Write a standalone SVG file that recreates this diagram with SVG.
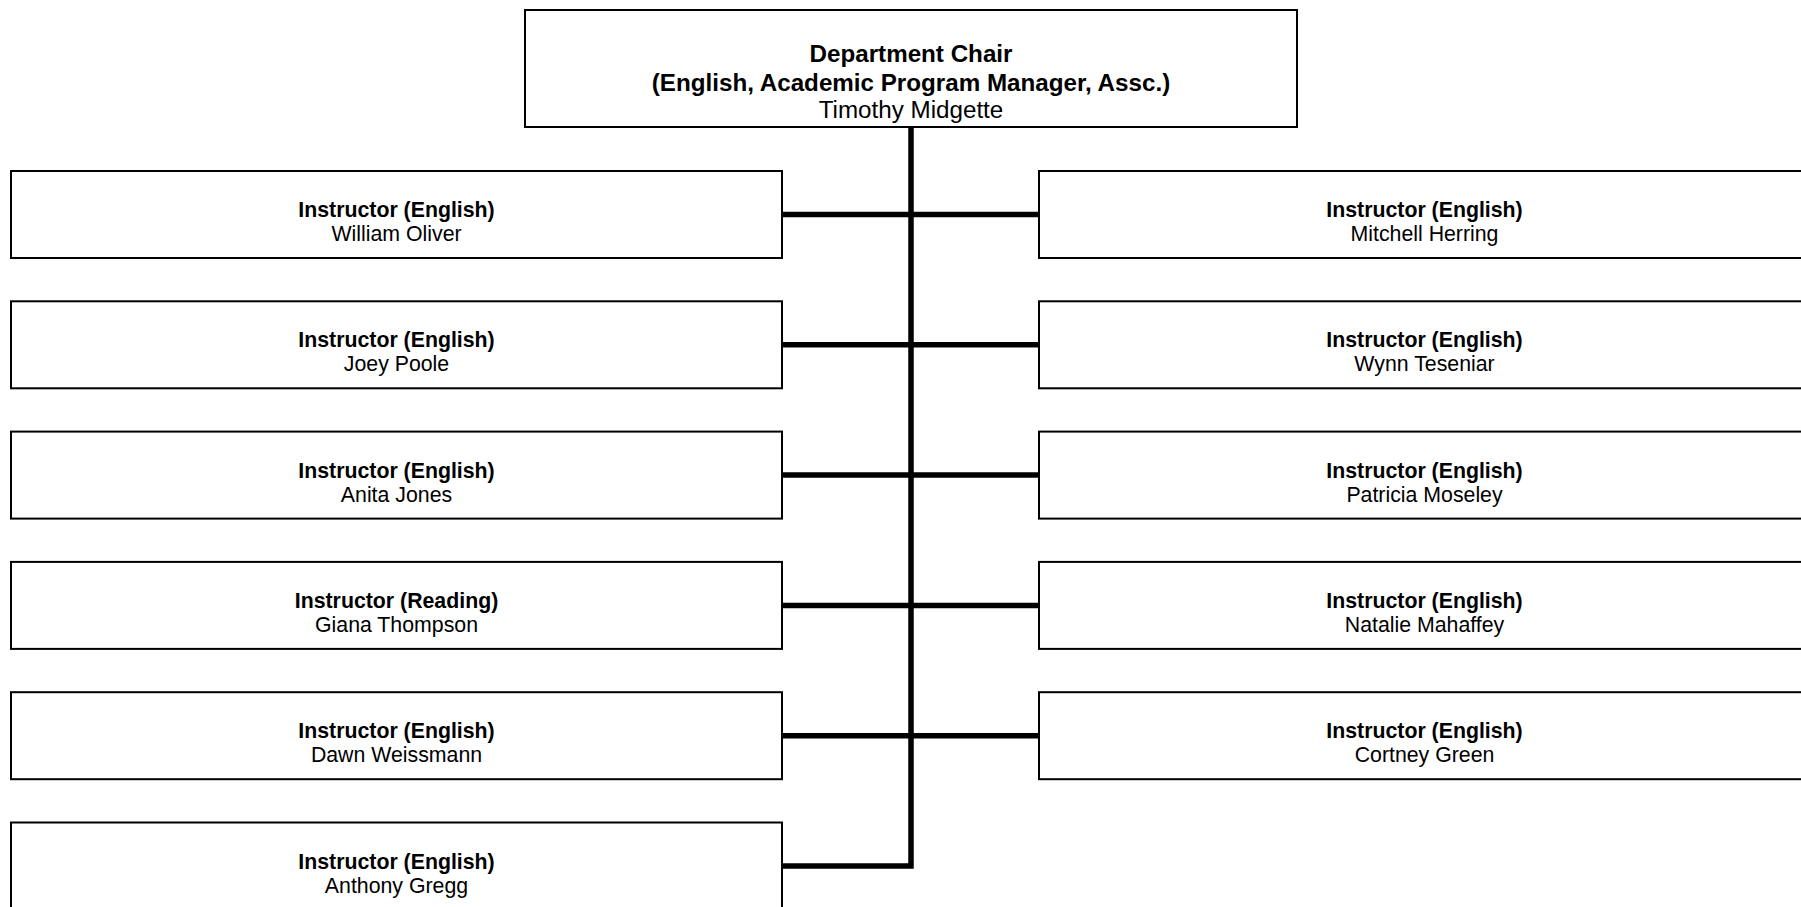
<svg xmlns="http://www.w3.org/2000/svg" width="1801" height="907" viewBox="0 0 1801 907">
<style>
.box{fill:#fff;stroke:#000;stroke-width:2}
.t{font-family:"Liberation Sans",Arial,sans-serif;font-size:21.3px;fill:#000;text-anchor:middle}
.h{font-size:24.2px}
.b{font-weight:bold}
.c{stroke:#000;stroke-width:5.5;fill:none}
</style>
<rect width="1801" height="907" fill="#fff"/>
<g id="connectors">
<path class="c" d="M911 127 V866 H782"/>
<path class="c" d="M782 214.5 H1039 M782 344.8 H1039 M782 475.1 H1039 M782 605.4 H1039 M782 735.7 H1039"/>
</g>
<g id="chair">
<rect class="box" x="525" y="10" width="772" height="117"/>
<text class="t h b" x="911" y="61.5">Department Chair</text>
<text class="t h b" x="911" y="91">(English, Academic Program Manager, Assc.)</text>
<text class="t h" x="911" y="118">Timothy Midgette</text>
</g>
<g id="l1"><rect class="box" x="11" y="171" width="771" height="87"/><text class="t b" x="396.5" y="217">Instructor (English)</text><text class="t" x="396.5" y="241">William Oliver</text></g>
<g id="l2"><rect class="box" x="11" y="301.3" width="771" height="87"/><text class="t b" x="396.5" y="347.3">Instructor (English)</text><text class="t" x="396.5" y="371.3">Joey Poole</text></g>
<g id="l3"><rect class="box" x="11" y="431.6" width="771" height="87"/><text class="t b" x="396.5" y="477.6">Instructor (English)</text><text class="t" x="396.5" y="501.6">Anita Jones</text></g>
<g id="l4"><rect class="box" x="11" y="561.9" width="771" height="87"/><text class="t b" x="396.5" y="607.9">Instructor (Reading)</text><text class="t" x="396.5" y="631.9">Giana Thompson</text></g>
<g id="l5"><rect class="box" x="11" y="692.2" width="771" height="87"/><text class="t b" x="396.5" y="738.2">Instructor (English)</text><text class="t" x="396.5" y="762.2">Dawn Weissmann</text></g>
<g id="l6"><rect class="box" x="11" y="822.5" width="771" height="87"/><text class="t b" x="396.5" y="868.5">Instructor (English)</text><text class="t" x="396.5" y="892.5">Anthony Gregg</text></g>
<g id="r1"><rect class="box" x="1039" y="171" width="771" height="87"/><text class="t b" x="1424.5" y="217">Instructor (English)</text><text class="t" x="1424.5" y="241">Mitchell Herring</text></g>
<g id="r2"><rect class="box" x="1039" y="301.3" width="771" height="87"/><text class="t b" x="1424.5" y="347.3">Instructor (English)</text><text class="t" x="1424.5" y="371.3">Wynn Teseniar</text></g>
<g id="r3"><rect class="box" x="1039" y="431.6" width="771" height="87"/><text class="t b" x="1424.5" y="477.6">Instructor (English)</text><text class="t" x="1424.5" y="501.6">Patricia Moseley</text></g>
<g id="r4"><rect class="box" x="1039" y="561.9" width="771" height="87"/><text class="t b" x="1424.5" y="607.9">Instructor (English)</text><text class="t" x="1424.5" y="631.9">Natalie Mahaffey</text></g>
<g id="r5"><rect class="box" x="1039" y="692.2" width="771" height="87"/><text class="t b" x="1424.5" y="738.2">Instructor (English)</text><text class="t" x="1424.5" y="762.2">Cortney Green</text></g>
</svg>
